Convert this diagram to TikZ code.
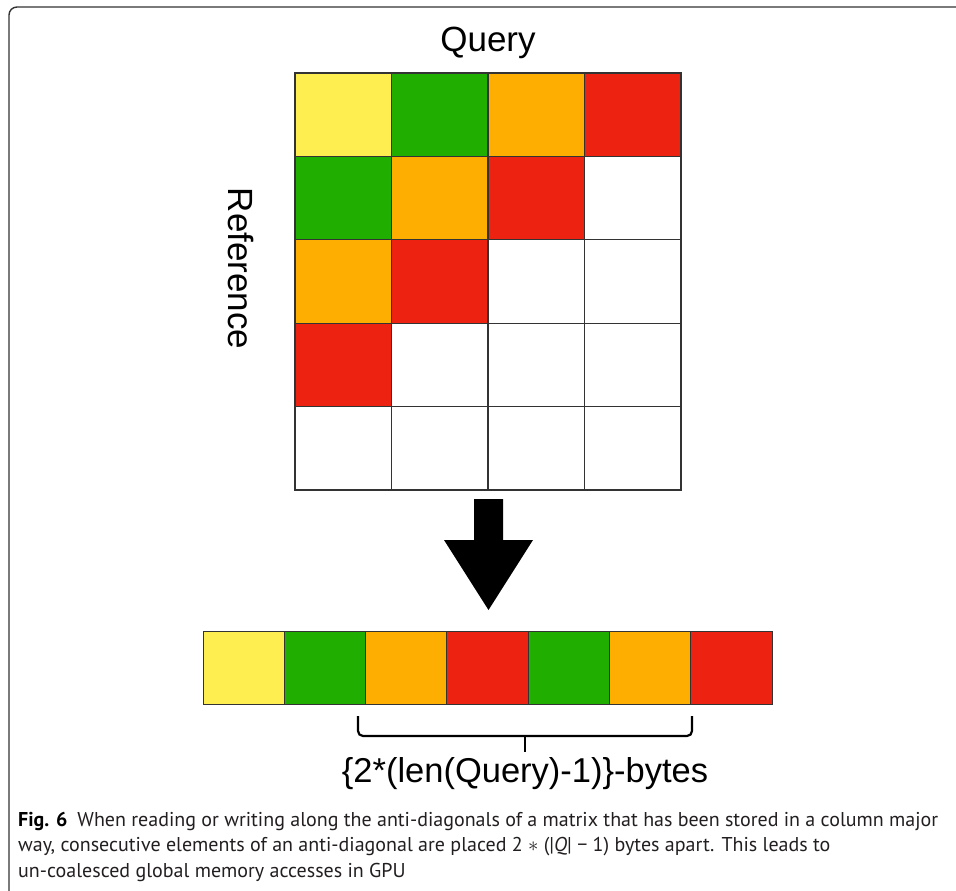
\documentclass[tikz,border=0pt]{standalone}
\usepackage{fontspec}
\setmainfont{Liberation Sans}
\newfontfamily\capfont{PT Sans}
\definecolor{cyel}{HTML}{FEEE50}
\definecolor{cgrn}{HTML}{20AF00}
\definecolor{corg}{HTML}{FEAE00}
\definecolor{cred}{HTML}{EE2210}
\definecolor{cline}{HTML}{333333}
\definecolor{ccap}{HTML}{231F20}
\newsavebox\capboxA
\begin{document}
\sbox\capboxA{\capfont\fontsize{20}{24}\selectfont\textbf{Fig. 6}\enspace When reading or writing along the anti-diagonals of a matrix that has been stored in a column major}%
\pgfmathsetmacro\capsx{920/\the\wd\capboxA}%
\begin{tikzpicture}[x=1pt,y=-1pt,
  mcell/.style={draw=cline, line width=1.2pt, minimum width=96.5pt, minimum height=83.4pt, inner sep=0pt, outer sep=0pt},
  bcell/.style={draw=cline, line width=1pt, minimum width=81.3pt, minimum height=73pt, inner sep=0pt, outer sep=0pt},
  biglabel/.style={font=\fontsize{35}{42}\selectfont, inner sep=0pt},
  capline/.style={anchor=base west, inner sep=0pt, text=ccap, font=\capfont\fontsize{20}{24}\selectfont}]
\useasboundingbox (0,0) rectangle (956,891);
\fill[white] (0,0) rectangle (956,891);
% frame
\draw[cline, line width=1.4pt, rounded corners=8pt] (9,895) -- (9,7) -- (960,7);
% matrix
\foreach \r/\c/\col in {1/1/cyel,1/2/cgrn,1/3/corg,1/4/cred,
  2/1/cgrn,2/2/corg,2/3/cred,2/4/white,
  3/1/corg,3/2/cred,3/3/white,3/4/white,
  4/1/cred,4/2/white,4/3/white,4/4/white,
  5/1/white,5/2/white,5/3/white,5/4/white}
  \node[mcell, fill=\col] (m\r\c) at ({295+96.5*(\c-0.5)},{73+83.4*(\r-0.5)}) {};
\node[biglabel, anchor=base] (query) at (488,52) {Query};
\node[biglabel, anchor=base, rotate=-90] (refer) at (228,268.5) {Reference};
% arrow
\fill[black] (474,499) -- (503,499) -- (503,540) -- (533,540) -- (488.5,610) -- (444,540) -- (474,540) -- cycle;
% bar
\foreach \i/\col in {1/cyel,2/cgrn,3/corg,4/cred,5/cgrn,6/corg,7/cred}
  \node[bcell, fill=\col] (b\i) at ({203+81.3*(\i-0.5)},667.5) {};
% brace
\coordinate (brL) at (358,716);
\coordinate (brR) at (692,716);
\coordinate (brM) at (525,736);
\draw[line width=2.2pt, rounded corners=5pt] (brL) -- (358,736) -- (692,736) -- (brR);
\draw[line width=2.2pt] (brM) -- (525,752);
\node[font=\fontsize{34.5}{40}\selectfont, anchor=base, inner sep=0pt] (lbl) at (525,782) {\{2*(len(Query)-1)\}-bytes};
% caption
\node[capline] (cap1) at (18,826) {\scalebox{\capsx}{\textcolor{black}{\textbf{Fig. 6}}\enspace When reading or writing along the anti-diagonals of a matrix that has been stored in a column major}};
\node[capline] (cap2) at (18,851.5) {\scalebox{\capsx}{way, consecutive elements of an anti-diagonal are placed 2 $\ast$ (|\textit{Q}| − 1) bytes apart. This leads to}};
\node[capline] (cap3) at (18,877) {\scalebox{\capsx}{un-coalesced global memory accesses in GPU}};
\end{tikzpicture}
\end{document}
